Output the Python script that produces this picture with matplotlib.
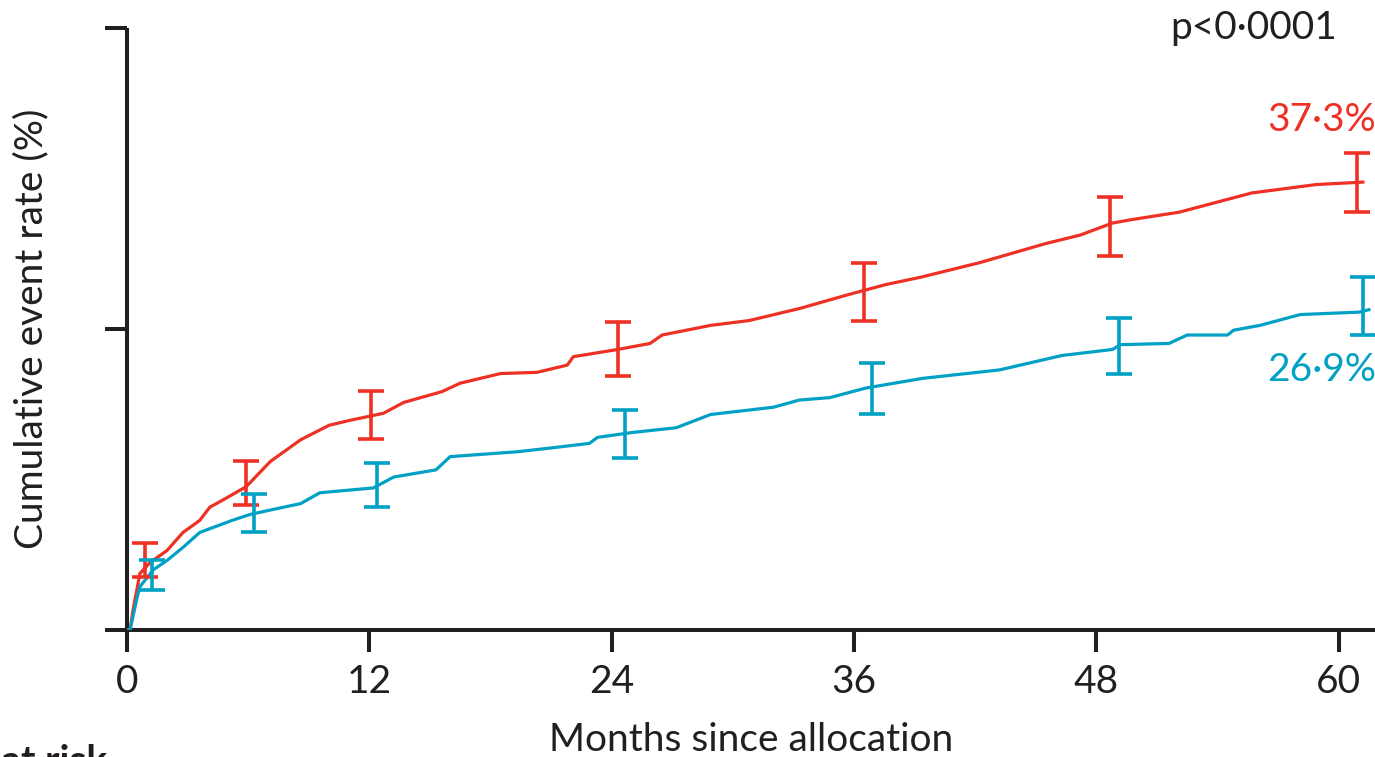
import matplotlib.pyplot as plt

# curve points (months, cumulative %)
red_t = [0, 0.15, 0.3, 0.64, 1.14, 1.98, 2.77, 3.6, 4.1, 4.75, 5.9, 7.1, 8.6, 10.0, 11.0,
         12.7, 13.7, 15.6, 16.5, 18.5, 20.3, 21.8, 22.1, 24.3, 25.9, 26.5, 28.9, 30.8,
         33.3, 35.6, 37.6, 39.3, 42.2, 45.5, 47.2, 48.8, 49.8, 52.1, 55.7, 58.9, 61.2]
red_y = [0, 0, 1.66, 4.7, 5.6, 6.6, 8.1, 9.1, 10.2, 10.8, 11.9, 14.0, 15.8, 17.0, 17.4,
         18.0, 18.9, 19.8, 20.5, 21.3, 21.4, 22.0, 22.7, 23.3, 23.8, 24.5, 25.3, 25.7,
         26.7, 27.8, 28.7, 29.3, 30.5, 32.1, 32.8, 33.8, 34.1, 34.7, 36.3, 37.0, 37.2]

blue_t = [0, 0.15, 0.5, 0.64, 1.3, 2.0, 2.8, 3.6, 5.2, 6.1, 7.2, 8.6, 9.55, 12.2, 13.2,
          15.3, 16.0, 19.3, 20.9, 22.9, 23.3, 25.0, 27.2, 28.9, 32.0, 33.3, 34.8, 36.6,
          39.4, 43.2, 46.3, 48.8, 49.2, 51.6, 52.5, 54.5, 54.8, 56.1, 58.1, 61.0, 61.5]
blue_y = [0, 0, 2.7, 3.6, 5.0, 5.8, 6.9, 8.1, 9.1, 9.6, 10.0, 10.5, 11.4, 11.8, 12.7,
          13.3, 14.4, 14.8, 15.1, 15.5, 16.0, 16.4, 16.8, 17.9, 18.5, 19.1, 19.3, 20.1,
          20.9, 21.6, 22.8, 23.3, 23.7, 23.8, 24.5, 24.5, 24.9, 25.3, 26.2, 26.4, 26.6]

# error bars: position, lower, upper
red_eb_t = [0.9, 5.9, 12.1, 24.3, 36.5, 48.7, 60.9]
red_eb_lo = [4.4, 10.4, 15.9, 21.1, 25.7, 31.1, 34.7]
red_eb_hi = [7.2, 14.0, 19.85, 25.6, 30.5, 36.0, 39.6]
blue_eb_t = [1.24, 6.3, 12.4, 24.65, 36.9, 49.1, 61.2]
blue_eb_lo = [3.3, 8.1, 10.2, 14.3, 17.9, 21.3, 24.5]
blue_eb_hi = [5.8, 11.3, 13.9, 18.3, 22.2, 25.9, 29.3]

xticks = [0, 12, 24, 36, 48, 60]
yticks = [0, 25, 50]

RED = '#ee3124'
BLUE = '#00a1c4'
INK = '#231f20'
FONT = ['Lato', 'DejaVu Sans']
FS = 28

plt.rcParams['font.family'] = FONT

fig = plt.figure(figsize=(13.75, 7.57), dpi=100)
ax = fig.add_axes([127 / 1375, 127 / 757, 1 - 127 / 1375, 602 / 757])

ax.plot(red_t, red_y, color=RED, lw=2.3, zorder=3)
ax.plot(blue_t, blue_y, color=BLUE, lw=2.3, zorder=3)

for t, lo, hi, c in [(red_eb_t, red_eb_lo, red_eb_hi, RED),
                     (blue_eb_t, blue_eb_lo, blue_eb_hi, BLUE)]:
    mid = [(a + b) / 2 for a, b in zip(lo, hi)]
    err = [[m - a for m, a in zip(mid, lo)], [b - m for m, b in zip(mid, hi)]]
    ax.errorbar(t, mid, yerr=err, fmt='none', ecolor=c, elinewidth=2.6,
                capsize=9.5, capthick=2.6, zorder=4)

ax.set_xlim(0, 61.8)
ax.set_ylim(0, 50)
ax.set_xticks(xticks)
ax.set_yticks(yticks)
ax.set_yticklabels([])
for s in ['top', 'right']:
    ax.spines[s].set_visible(False)
for s in ['left', 'bottom']:
    ax.spines[s].set_linewidth(2.9)
    ax.spines[s].set_color(INK)
    ax.spines[s].set_capstyle('butt')
ax.tick_params(length=15.5, width=2.9, color=INK, labelsize=FS, labelcolor=INK)
ax.tick_params(axis='x', pad=9)

ax.set_xlabel('Months since allocation', fontsize=FS, color=INK, labelpad=16)
ax.set_ylabel('Cumulative event rate (%)', fontsize=FS, color=INK)
ax.yaxis.set_label_coords(-0.062, 0.5)

ax.text(51.66, 50, 'p<0\u00b70001', fontsize=FS, color=INK, ha='left', va='center')
ax.text(56.46, 42.4, '37\u00b73%', fontsize=FS, color=RED, ha='left', va='center')
ax.text(56.46, 21.6, '26\u00b79%', fontsize=FS, color=BLUE, ha='left', va='center')

fig.text(107 / 1375, 13 / 757, 'Number at risk', fontsize=FS, fontweight='bold',
         color=INK, ha='right', va='top')

fig.savefig('out.png', dpi=100)
